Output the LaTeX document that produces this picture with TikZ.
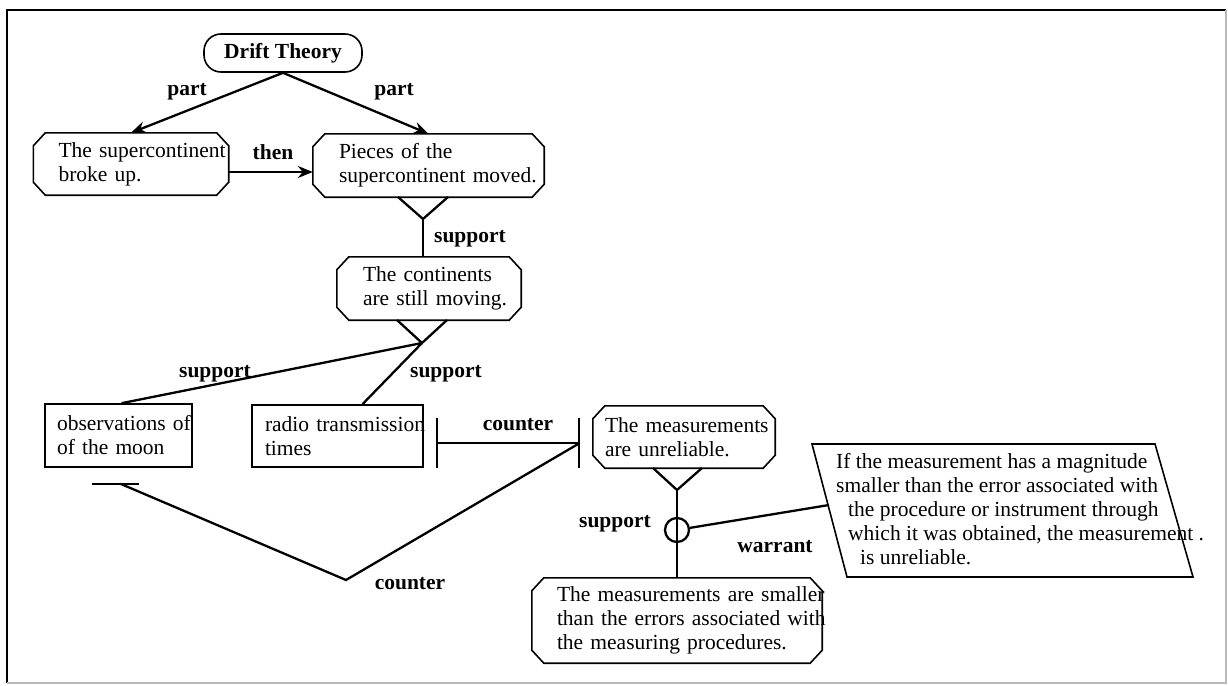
\documentclass[tikz,border=0pt]{standalone}
\usepackage{fontspec}
\setmainfont{Liberation Serif}
\usetikzlibrary{arrows.meta,calc}
\newcommand\chamferbox[1]{\draw[boxline] ([xshift=12pt]#1.north west) -- ([xshift=-12pt]#1.north east) -- ([yshift=-13pt]#1.north east) -- ([yshift=13pt]#1.south east) -- ([xshift=-12pt]#1.south east) -- ([xshift=12pt]#1.south west) -- ([yshift=13pt]#1.south west) -- ([yshift=-13pt]#1.north west) -- cycle;}
\begin{document}
\begin{tikzpicture}[x=1pt,y=-1pt,
  every node/.style={font=\fontsize{21.5pt}{24pt}\selectfont},
  boxline/.style={line width=1.6pt},
  conn/.style={line width=2.3pt},
  arr/.style={conn,-{Stealth[length=15pt,width=12pt,inset=5pt]}},
  tb/.style n args={3}{text width=#1pt, minimum width=#2pt, minimum height=#3pt, align=left, inner xsep=0pt, inner ysep=0pt},
  lab/.style={font=\fontsize{21.5pt}{24pt}\selectfont\bfseries, inner sep=0pt},
  fork/.style={conn}
]
\useasboundingbox (0,0) rectangle (1228,685);
% frame
\draw[line width=2.8pt] (7,683) -- (7,10) -- (1226,10);
\draw[gray!55, line width=1.5pt] (1226,10) -- (1226,683) -- (7,683);

% nodes
\node[draw, boxline, rounded corners=17pt, minimum width=158pt, minimum height=38pt, inner sep=0pt, font=\fontsize{21.5pt}{24pt}\selectfont\bfseries] (dt) at (283,53) {Drift Theory};
\node[tb={145}{195}{62}] (sup) at (131,164) {\mbox{The supercontinent}\\\mbox{broke up.}};
\chamferbox{sup}
\node[tb={179}{231}{63}] (pcs) at (428.5,165.5) {\mbox{Pieces of the}\\\mbox{supercontinent moved.}};
\chamferbox{pcs}
\node[tb={132}{184}{63}] (cont) at (429,288.5) {\mbox{The continents}\\\mbox{are still moving.}};
\chamferbox{cont}
\node[draw, boxline, tb={123}{147}{63}] (obs) at (118.5,435.5) {\mbox{observations of}\\\mbox{of the moon}};
\node[draw, boxline, tb={145}{171}{62}] (radio) at (337.5,436) {\mbox{radio transmission}\\\mbox{times}};
\node[tb={158}{182}{62}] (unrel) at (684,437) {\mbox{The measurements}\\\mbox{are unreliable.}};
\chamferbox{unrel}
\node[tb={240}{290}{85}] (bot) at (677,620.5) {\mbox{The measurements are smaller}\\\mbox{than the errors associated with}\\\mbox{the measuring procedures.}};
\chamferbox{bot}
% warrant box
\draw[boxline] (812,444) coordinate (pa) -- (1155,444) coordinate (pb) -- (1193,577) coordinate (pc) -- (847,577) coordinate (pd) -- cycle;
\node[inner sep=0pt, align=left, anchor=north west] (wt) at (836,453) {If the measurement has a magnitude\\smaller than the error associated with\\\hspace*{12pt}the procedure or instrument through\\\hspace*{12pt}which it was obtained, the measurement .\\\hspace*{24pt}is unreliable.};
\coordinate (wend) at (829,505);
\node[draw, conn, circle, minimum size=24pt, inner sep=0pt] (w) at (677,530) {};

% part arrows
\draw[arr] (dt.south) -- (sup.north);
\draw[arr] (dt.south) -- (pcs.north);
\node[lab] (lp1) at (187,92) {part};
\node[lab] (lp2) at (394,92) {part};
% then
\coordinate (thy) at (0,172);
\draw[arr] (sup.east |- thy) -- (pcs.west |- thy);
\node[lab] (lthen) at (273,152) {then};

% support fork 1
\coordinate (f1) at (423,219);
\draw[fork] (398,197) -- (f1) -- (448,197);
\draw[conn] (f1) -- (f1 |- cont.north);
\node[lab] (ls1) at (470,239) {support};

% support fork 2
\coordinate (f2) at (422,343);
\draw[fork] (397,320) -- (f2) -- (447,320);
\draw[conn] (f2) -- ([xshift=3pt]obs.north);
\draw[conn] (f2) -- ([xshift=25pt]radio.north);
\node[lab] (ls2) at (215,374) {support};
\node[lab] (ls3) at (446,374) {support};

% counter 1
\coordinate (cy) at (0,443);
\coordinate (cb1) at ([xshift=12pt]radio.east |- cy);
\coordinate (cb2) at ([xshift=-13pt]unrel.west |- cy);
\draw[conn, {Bar[width=50pt]}-{Bar[width=50pt]}] (cb1) -- (cb2);
\node[lab] (lc1) at (518,425) {counter};

% counter 2
\coordinate (ob) at ([yshift=-16pt]obs.south);
\coordinate (cv) at (346,580);
\draw[conn] ([xshift=-27pt]ob) -- ([xshift=20pt]ob);
\draw[conn] (cb2) -- (cv) -- ([xshift=2pt]ob);
\node[lab] (lc2) at (410,584) {counter};

% support fork 3 with warrant
\coordinate (f3) at (677,490);
\draw[fork] (653,468) -- (f3) -- (702,468);
\draw[conn] (f3) -- (bot.north);
\draw[conn] (w) -- (wend);
\node[lab] (ls4) at (615,524) {support};
\node[lab] (lw) at (775,547) {warrant};
\end{tikzpicture}
\end{document}
